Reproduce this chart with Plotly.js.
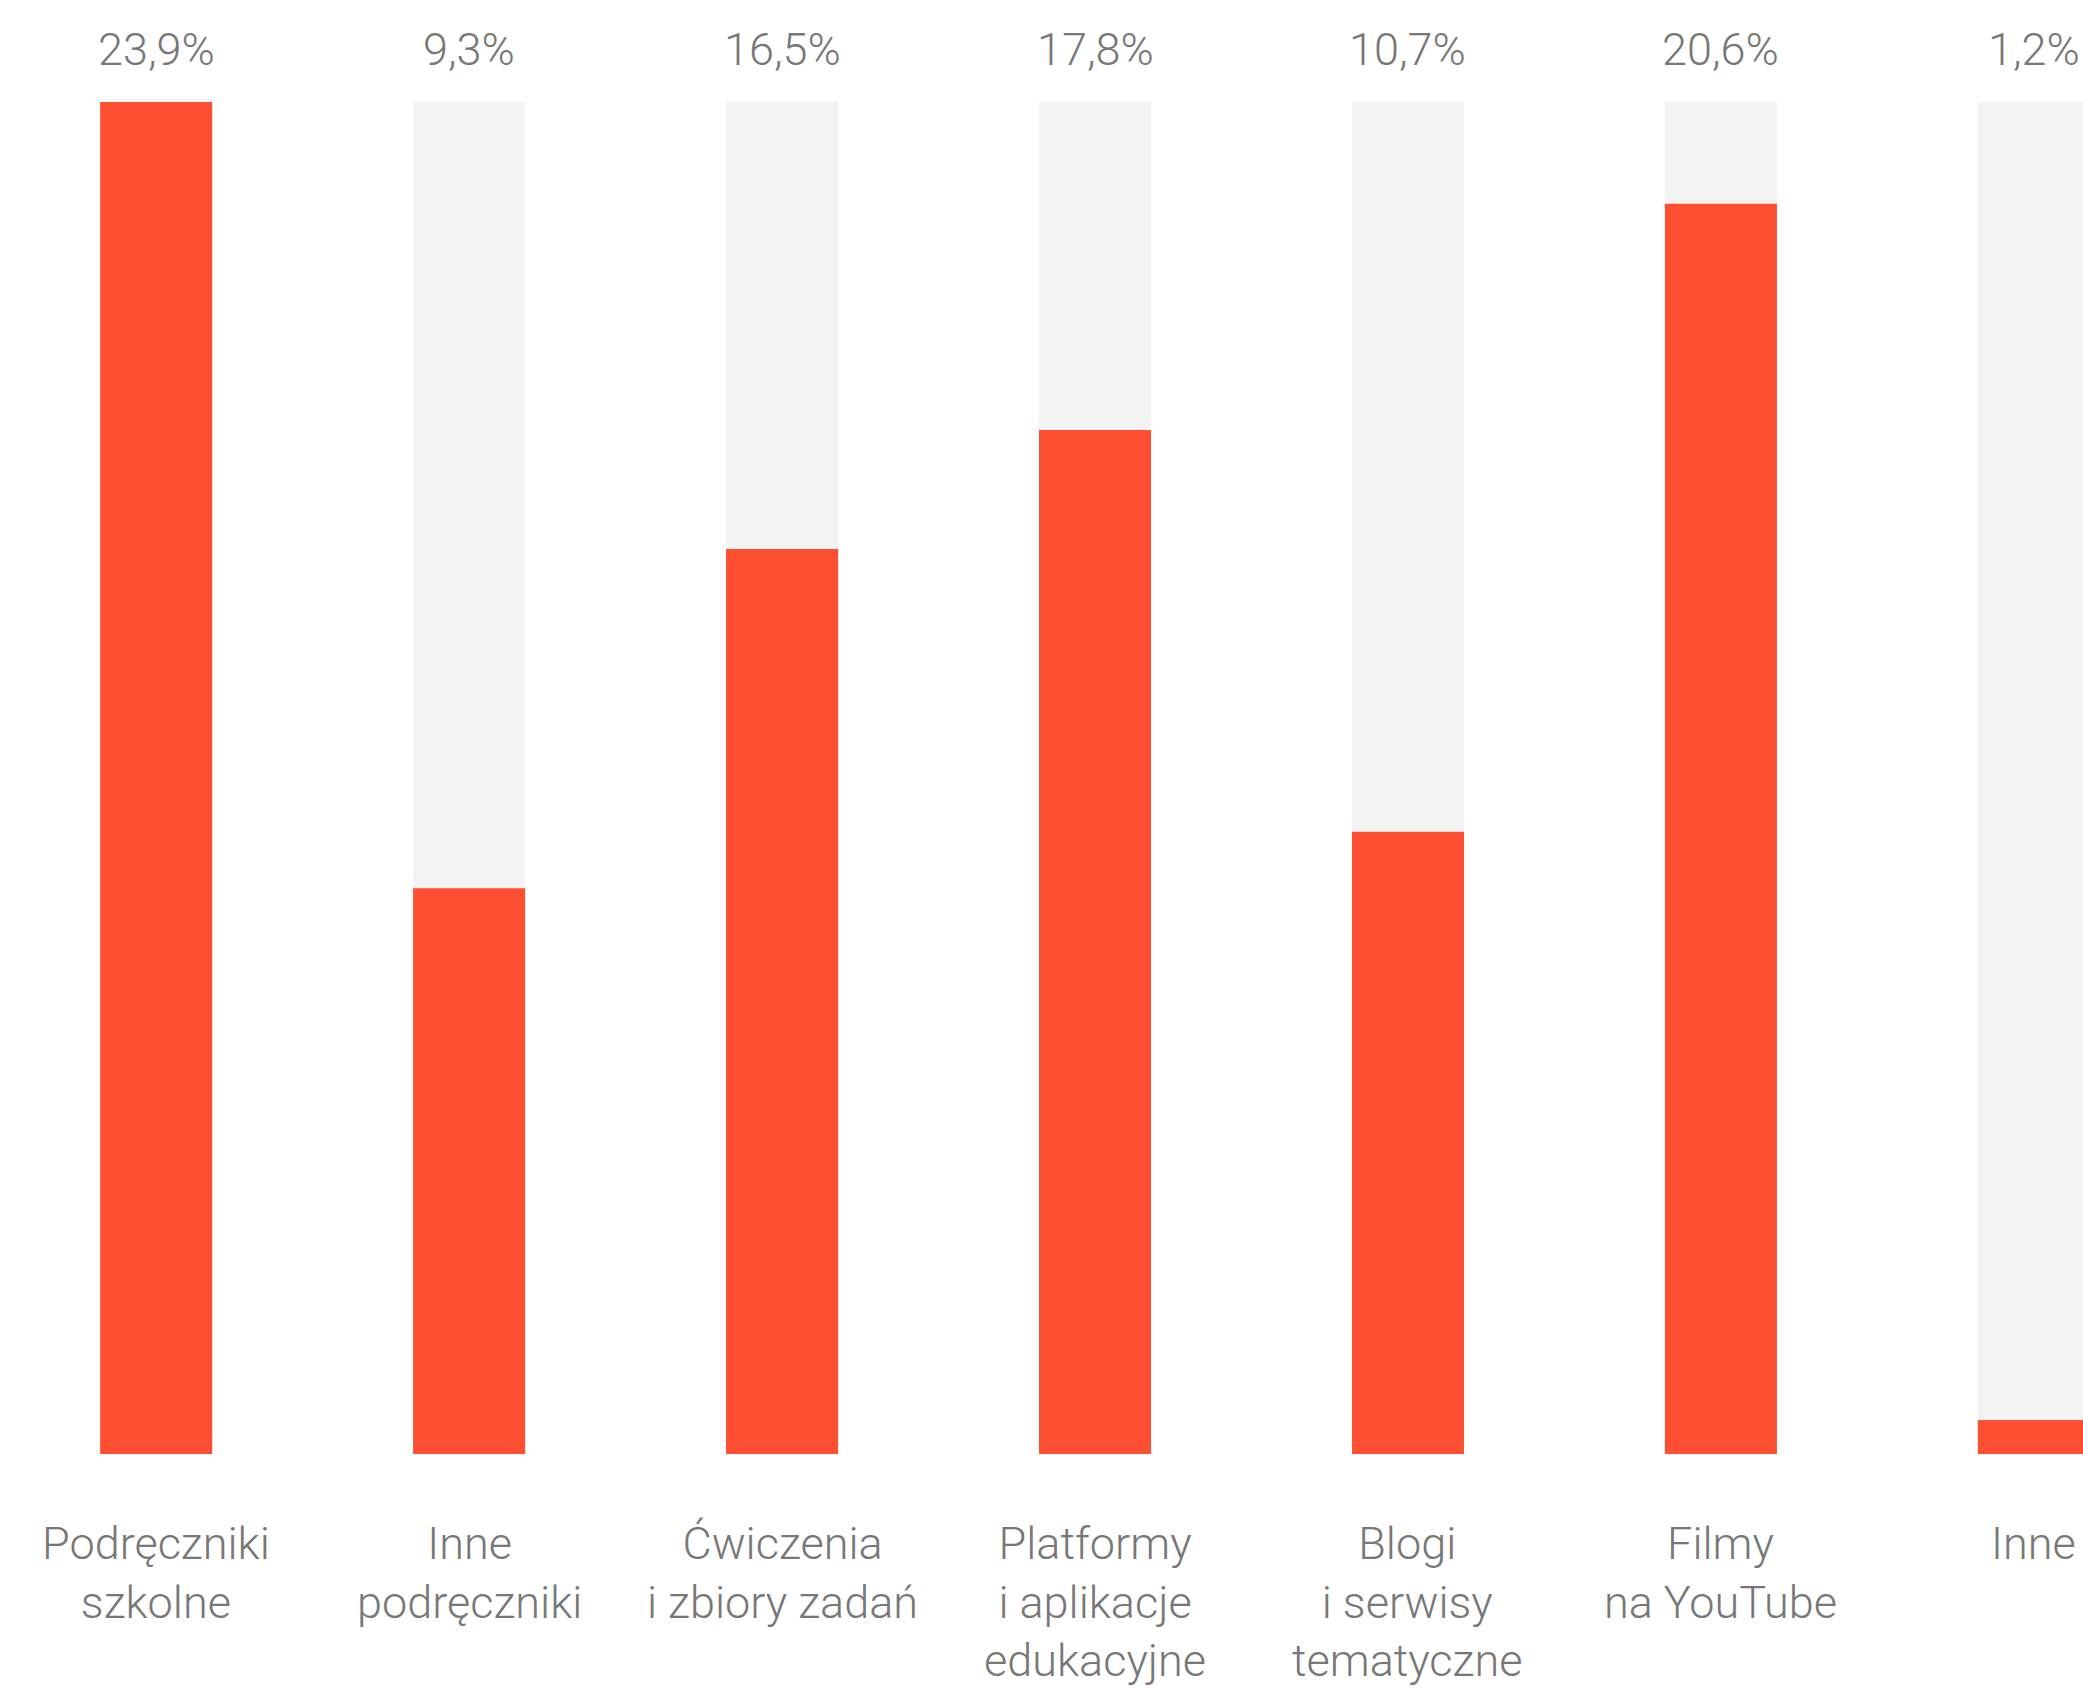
<!DOCTYPE html>
<html>
<head>
<meta charset="utf-8">
<script src="https://cdn.plot.ly/plotly-3.0.1.min.js"></script>
<style>
  html, body { margin: 0; padding: 0; background: #ffffff; }
  #chart { width: 2083px; height: 1688px; }
</style>
</head>
<body>
<div id="chart"></div>
<script>
// ---- data ----
const categories = [
  "Podręczniki<br>szkolne",
  "Inne<br>podręczniki",
  "Ćwiczenia<br>i zbiory zadań",
  "Platformy<br>i aplikacje<br>edukacyjne",
  "Blogi<br>i serwisy<br>tematyczne",
  "Filmy<br>na YouTube",
  "Inne"
];
const shareValues = [23.9, 9.3, 16.5, 17.8, 10.7, 20.6, 1.2];          // printed percentages
const barHeights  = [23.9, 10.0, 16.0, 18.1, 11.0, 22.1, 0.6];         // drawn bar heights as measured
const scaleMax = 23.9;                                                  // full height of the grey track

// ---- styling ----
const RED = "#FF4F33";
const TRACK = "#F3F3F3";
const TEXT = "#777777";
const FONT = "Roboto, 'Open Sans', sans-serif";

const shareLabels = shareValues.map(v => v.toFixed(1).replace(".", ",") + "%");
const trackValues = categories.map(() => scaleMax);

const barWidth = 0.358;

const traces = [
  {
    type: "bar", x: categories, y: trackValues,
    marker: { color: TRACK, line: { width: 0 } },
    width: barWidth, hoverinfo: "skip", showlegend: false
  },
  {
    type: "bar", x: categories, y: barHeights,
    marker: { color: RED, line: { width: 0 } },
    width: barWidth, hoverinfo: "skip", showlegend: false
  }
];

const annotations = [];
categories.forEach((c, i) => {
  annotations.push({
    x: c, y: scaleMax, xref: "x", yref: "y",
    text: shareLabels[i], showarrow: false,
    xanchor: "center", yanchor: "bottom", yshift: 24,
    font: { family: FONT, size: 45, color: TEXT, weight: 300 }
  });
  annotations.push({
    x: c, y: 0, xref: "x", yref: "y",
    text: c, showarrow: false, align: "center",
    xanchor: "center", yanchor: "top", yshift: -61,
    font: { family: FONT, size: 45, color: TEXT, weight: 300 }
  });
});

const layout = {
  width: 2083, height: 1688,
  margin: { l: 0, r: 0, t: 102, b: 234, pad: 0 },
  paper_bgcolor: "#ffffff", plot_bgcolor: "#ffffff",
  barmode: "overlay",
  showlegend: false,
  xaxis: {
    type: "category", range: [-0.499, 6.157],
    showticklabels: false, showgrid: false, zeroline: false,
    showline: false, ticks: "", fixedrange: true
  },
  yaxis: {
    range: [0, scaleMax], showticklabels: false, showgrid: false,
    zeroline: false, showline: false, ticks: "", fixedrange: true
  },
  annotations: annotations,
  font: { family: FONT, color: TEXT }
};

Plotly.newPlot("chart", traces, layout, { displayModeBar: false, staticPlot: true });
</script>
</body>
</html>
